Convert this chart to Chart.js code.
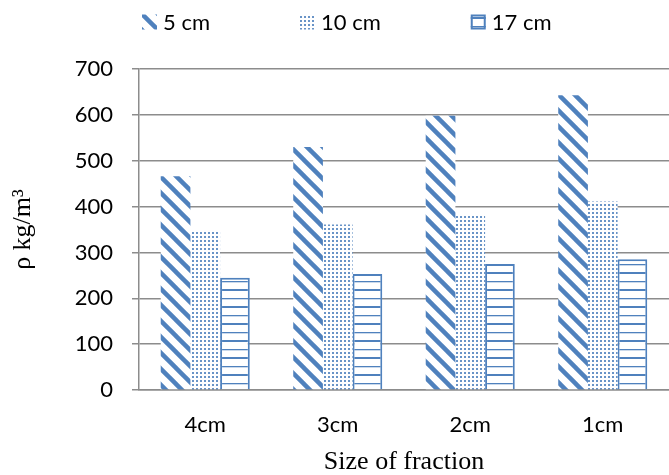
<!DOCTYPE html>
<html>
<head>
<meta charset="utf-8">
<script src="https://cdn.jsdelivr.net/npm/chart.js@4.4.1/dist/chart.umd.min.js"></script>
<style>
  html, body { margin: 0; padding: 0; background: #ffffff; }
  #wrap { width: 669px; height: 475px; }
</style>
</head>
<body>
<div id="wrap"><canvas id="c" width="669" height="475"></canvas></div>
<script>
// ---- data ----
const categories = ['4cm', '3cm', '2cm', '1cm'];
const seriesLabels = ['5 cm', '10 cm', '17 cm'];
const values5cm  = [466, 530, 598, 643];
const values10cm = [345, 361, 382, 411];
const values17cm = [245, 253, 275, 285];
const yTicks = [0, 100, 200, 300, 400, 500, 600, 700];

const BLUE = '#4F81BD';
const GRID = '#8c8c8c';

function tile(w, h, draw) {
  const c = document.createElement('canvas');
  c.width = w; c.height = h;
  const g = c.getContext('2d');
  g.fillStyle = '#ffffff';
  g.fillRect(0, 0, w, h);
  draw(g, w, h);
  return document.getElementById('c').getContext('2d').createPattern(c, 'repeat');
}
const diagPattern = tile(16, 16, (g, w, h) => {
  g.strokeStyle = BLUE; g.lineWidth = 4.5; g.lineCap = 'square';
  for (let k = -16; k <= 16; k += 16) {
    g.beginPath(); g.moveTo(-2, k - 2); g.lineTo(18, k + 18); g.stroke();
  }
});
const dotPattern = tile(4, 4, (g) => {
  g.fillStyle = 'rgba(79,129,189,0.85)';
  g.fillRect(0, 0, 2, 2);
});
const stripePattern = tile(4, 17, (g) => {
  g.fillStyle = BLUE;
  g.fillRect(0, 0, 4, 2);
  g.fillRect(0, 9, 4, 1.3);
});

const datasets = [
  { label: seriesLabels[0], data: values5cm,  backgroundColor: diagPattern,   borderWidth: 0 },
  { label: seriesLabels[1], data: values10cm, backgroundColor: dotPattern,    borderWidth: 0 },
  { label: seriesLabels[2], data: values17cm, backgroundColor: stripePattern, borderColor: BLUE, borderWidth: 2 }
];

// custom legend drawn at top
const topLegend = {
  id: 'topLegend',
  afterDraw(chart) {
    const ctx = chart.ctx;
    ctx.save();
    ctx.font = '22px Lato';
    ctx.textBaseline = 'middle';
    ctx.textAlign = 'left';
    let x = 142;
    const yc = 22, box = 15, gap = 6, itemGap = 90;
    chart.data.datasets.forEach(ds => {
      ctx.fillStyle = ds.backgroundColor;
      ctx.fillRect(x, yc - box / 2, box, box);
      if (ds.borderWidth) {
        ctx.strokeStyle = ds.borderColor; ctx.lineWidth = 2;
        ctx.strokeRect(x + 1, yc - box / 2 + 1, box - 2, box - 2);
      }
      ctx.fillStyle = '#000000';
      ctx.fillText(ds.label, x + box + gap, yc + 1);
      x += box + gap + ctx.measureText(ds.label).width + itemGap;
    });
    ctx.restore();
  }
};

new Chart(document.getElementById('c'), {
  type: 'bar',
  data: { labels: categories, datasets },
  options: {
    responsive: false,
    animation: false,
    devicePixelRatio: 1,
    layout: { padding: { top: 69, left: 0, right: 0, bottom: 0 } },
    plugins: { legend: { display: false }, tooltip: { enabled: false } },
    datasets: { bar: { categoryPercentage: 0.672, barPercentage: 1.0, borderSkipped: 'bottom' } },
    scales: {
      x: {
        grid: { display: false, drawTicks: false },
        border: { display: true, color: GRID, width: 1.5 },
        ticks: { color: '#000', font: { family: 'Lato', size: 22 }, padding: 22 },
        title: { display: true, text: 'Size of fraction', color: '#000',
                 font: { family: 'Liberation Serif', size: 26, lineHeight: 1.0 }, padding: { top: 0, bottom: 0 } },
        afterFit(s) { s.height = 85; }
      },
      y: {
        min: 0, max: 700,
        afterBuildTicks(s) { s.ticks = yTicks.map(v => ({ value: v })); },
        grid: { color: GRID, lineWidth: 1.5, tickLength: 7, drawTicks: true },
        border: { display: true, color: GRID, width: 1.5 },
        ticks: { color: '#000', font: { family: 'Lato', size: 22 }, padding: 19 },
        title: { display: true, text: 'ρ kg/m³', color: '#000',
                 font: { family: 'Liberation Serif', size: 26, lineHeight: 1.2 }, padding: { top: 8, bottom: 0 } },
        afterFit(s) { s.width = 139; }
      }
    }
  },
  plugins: [topLegend]
});
</script>
</body>
</html>
